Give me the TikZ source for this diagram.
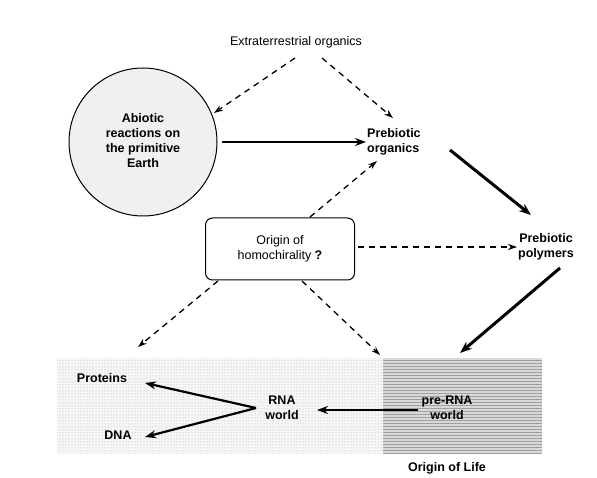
\documentclass[tikz,border=0pt]{standalone}
\usepackage{fontspec}
\setmainfont{Liberation Sans}
\usetikzlibrary{arrows.meta,patterns}
\begin{document}
\begin{tikzpicture}[x=1pt,y=-1pt,
  lbl/.style={font=\bfseries\fontsize{12.5}{15}\selectfont, align=center, inner sep=1pt},
  plain/.style={font=\fontsize{12.5}{15}\selectfont, align=center, inner sep=1pt},
  thick arrow/.style={line width=3pt, -{Stealth[length=12pt,width=9pt]}},
  mid arrow/.style={line width=2.2pt, -{Stealth[length=11pt,width=8pt]}},
  dash arrow/.style={line width=1.3pt, dash pattern=on 6pt off 5pt, -{Stealth[length=9pt,width=6pt]}}]
\useasboundingbox (0,0) rectangle (597,478);
% bottom band
\path[fill=gray!6] (57,358) rectangle (383,453);
\path[pattern=dots, pattern color=gray!70] (57,358) rectangle (383,453);
\path[fill=gray!30] (383,358) rectangle (542,453);
\path[pattern=horizontal lines, pattern color=gray!75] (383,358) rectangle (542,453);
% circle
\node[circle, draw, line width=1pt, fill=gray!12, minimum size=148pt, inner sep=0pt] (abio) at (143,142) {};
\node[lbl] (abiotxt) at (143,141) {Abiotic\\reactions on\\the primitive\\Earth};
\node[plain] (extra) at (296,42) {Extraterrestrial organics};
\node[lbl, align=left, anchor=west] (porg) at (366,142) {Prebiotic\\organics};
\node[lbl] (ppol) at (546,247) {Prebiotic\\polymers};
\node[plain, draw, line width=1pt, rounded corners=7pt, minimum width=149pt, minimum height=62pt] (homo) at (280,249) {Origin of\\homochirality \textbf{?}};
\node[lbl] (prot) at (102,378) {Proteins};
\node[lbl] (dna) at (118,435) {DNA};
\node[lbl] (rna) at (282,408) {RNA\\world};
\node[lbl] (prerna) at (447,408) {pre-RNA\\world};
\node[lbl] (ool) at (447,468) {Origin of Life};
% coordinates
\coordinate (e1) at (295,58);
\coordinate (e2) at (322,58);
\coordinate (a1) at (214,113);
\coordinate (p1) at (393,118);
\coordinate (fork) at (256,408);
\coordinate (h1) at (310,217);
\coordinate (h2) at (218,281);
\coordinate (h3) at (302,281);
\coordinate (pe) at (460,353);
\coordinate (d1) at (138,347);
\coordinate (d2) at (380,355);
% connectors
\draw[dash arrow] (e1) -- (a1);
\draw[dash arrow] (e2) -- (p1);
\draw[mid arrow] (abio.east) ++(4,0) -- (porg.west);
\draw[thick arrow] (450,150) -- (531,215);
\draw[dash arrow] (h1) -- (377,161);
\draw[dash arrow] (homo.east) ++(3,-2) -- (ppol.west |- 247,247);
\draw[dash arrow] (h2) -- (d1);
\draw[dash arrow] (h3) -- (d2);
\draw[thick arrow] (560,268) -- (pe);
\draw[mid arrow] (prerna.west) ++(-2,2) -- (317,410);
\draw[mid arrow] (fork) -- (145,383);
\draw[mid arrow] (fork) -- (145,437);
\end{tikzpicture}
\end{document}
